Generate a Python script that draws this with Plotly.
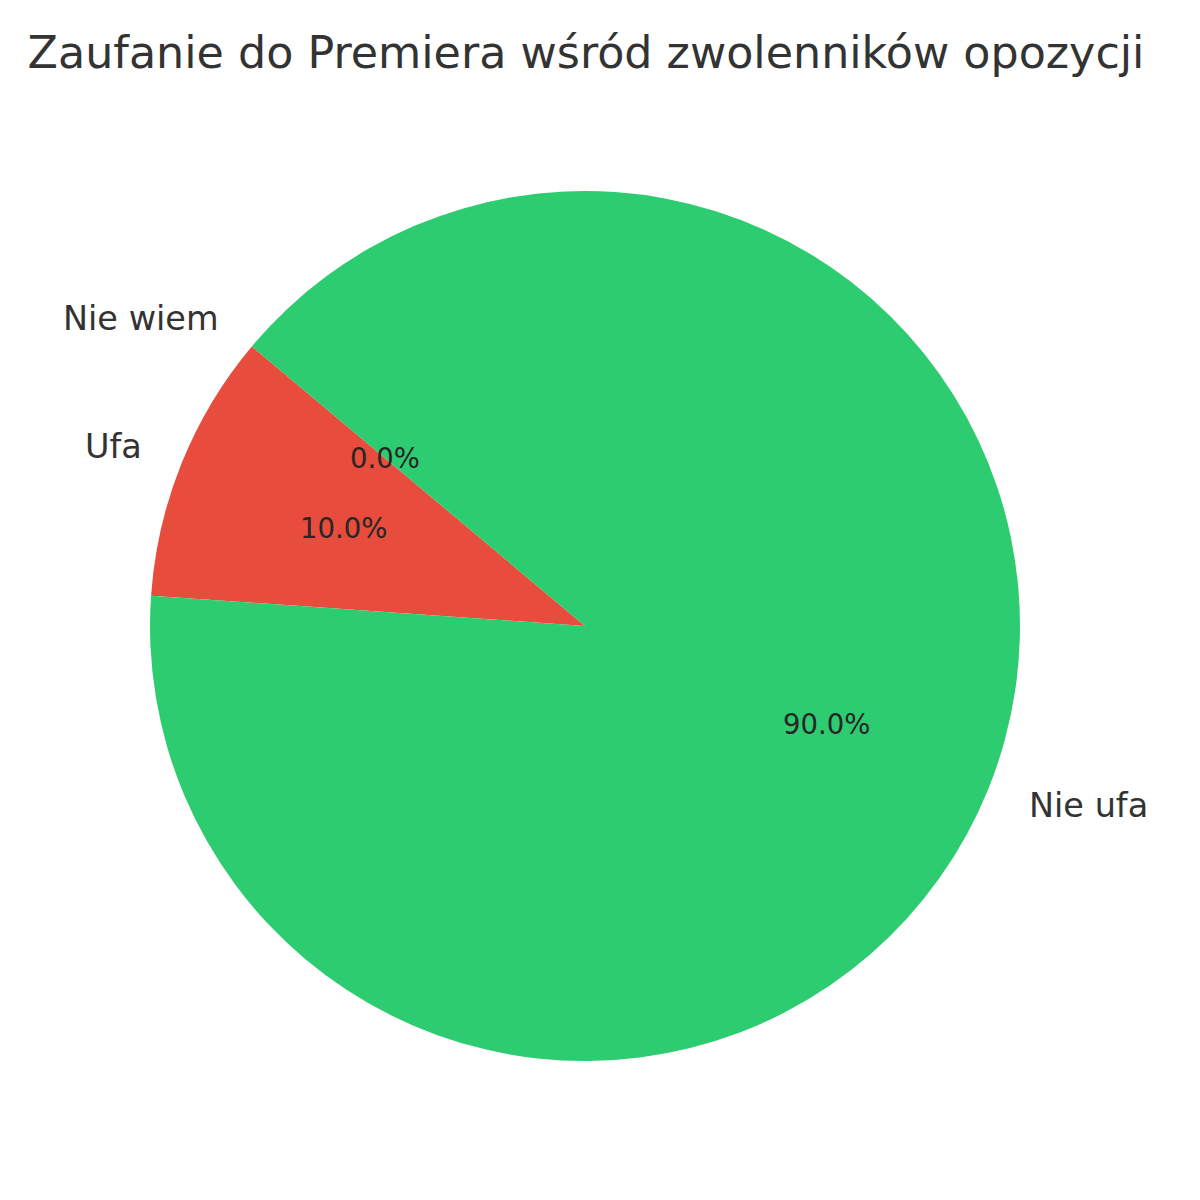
import math
import plotly.graph_objects as go

labels = ["Ufa", "Nie ufa", "Nie wiem"]
values = [10, 90, 0]
colors = ["#e74c3c", "#2ecc71", "#95a5a6"]
title = "Zaufanie do Premiera wśród zwolenników opozycji"

W = H = 1200
OFF = 8                      # page body margin offset
cx, cy, R = 585 - OFF, 626 - OFF, 435   # pie centre / radius in pixels
start_deg = 140              # counter-clockwise from 3 o'clock

total = sum(values)
# plotly: for counterclockwise direction, the first slice ends at `rotation`
rotation = 90 - start_deg - 360 * values[0] / total

fig = go.Figure(go.Pie(
    labels=labels, values=values, sort=False,
    direction="counterclockwise", rotation=rotation,
    marker=dict(colors=colors, line=dict(width=0)),
    textinfo="none", hoverinfo="label+percent", showlegend=False,
    domain=dict(x=[(cx - R) / W, (cx + R) / W],
                y=[1 - (cy + R) / H, 1 - (cy - R) / H]),
))

ann = []
acc = 0
for lab, v in zip(labels, values):
    mid = math.radians(start_deg + 360 * (acc + v / 2) / total)
    acc += v
    c, s = math.cos(mid), math.sin(mid)
    lx, ly = cx + 1.1 * R * c, cy - 1.1 * R * s
    ann.append(dict(x=lx / W, y=1 - ly / H, xref="paper", yref="paper",
                    text=lab, showarrow=False, borderpad=0,
                    xshift=-1 if c > 0 else 2,
                    xanchor="left" if c > 0 else "right", yanchor="middle",
                    font=dict(family="DejaVu Sans", size=33.5, color="#333333")))
    px, py = cx + 0.6 * R * c, cy - 0.6 * R * s
    ann.append(dict(x=px / W, y=1 - py / H, xref="paper", yref="paper",
                    text=f"{100 * v / total:.1f}%", showarrow=False,
                    xanchor="center", yanchor="middle",
                    font=dict(family="DejaVu Sans", size=27.5, color="#262626")))

fig.update_layout(
    width=W, height=H,
    margin=dict(l=0, r=0, t=0, b=0),
    paper_bgcolor="white", plot_bgcolor="white",
    title=dict(text=title, x=(586 - OFF) / W, y=1 - (52 - OFF) / H,
               xanchor="center", yanchor="middle",
               font=dict(family="DejaVu Sans", size=44.4, color="#333333")),
    annotations=ann,
)

fig.write_html("out.html")
